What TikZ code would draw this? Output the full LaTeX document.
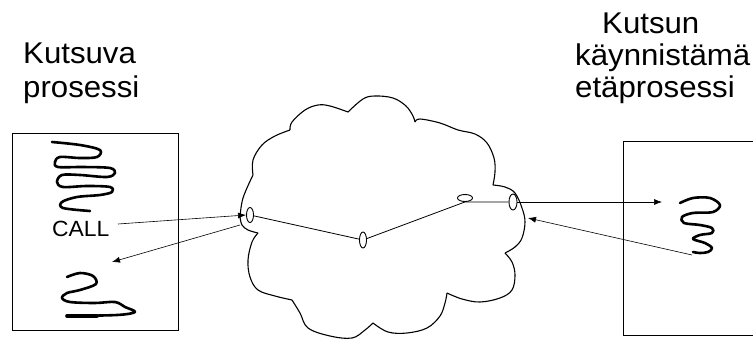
\documentclass[tikz,border=0pt]{standalone}
\usepackage{fontspec}
\setmainfont{Liberation Sans}[FakeStretch=1.04]
\usetikzlibrary{arrows.meta,shapes.geometric}
\tikzset{
  lbl/.style={anchor=base west,inner sep=0pt,font=\fontsize{30}{30}\selectfont},
  ell/.style={ellipse,draw,line width=0.9pt,inner sep=0pt,fill=white},
  conn/.style={line width=0.8pt},
  arr/.style={line width=0.6pt,-{Latex[length=8pt,width=6pt]}},
  scrib/.style={line width=2.6pt,line cap=round,line join=round},
  cloudline/.style={line width=1.1pt,line join=round},
  boxline/.style={line width=0.9pt}
}
\begin{document}
\begin{tikzpicture}[x=1pt,y=-1pt]
\useasboundingbox (0,0) rectangle (753,340);
% boxes
\draw[boxline] (12,133) rectangle (178,330);
\draw[boxline] (760,141) -- (623,141) -- (623,335) -- (760,335);
% titles
\node[lbl] (t1) at (23,63) {Kutsuva};
\node[lbl] (t2) at (23,97) {prosessi};
\node[lbl] (t3) at (602,33) {Kutsun};
\node[lbl] (t4) at (575,65) {käynnistämä};
\node[lbl] (t5) at (575,97) {etäprosessi};
\node[anchor=base west,inner sep=0pt,font=\fontsize{22}{22}\selectfont] (call) at (52,236) {CALL};
% cloud
\draw[cloudline] plot[smooth,tension=0.6] coordinates {(240,217) (243,198) (253,175)};
\draw[cloudline] plot[smooth,tension=0.6] coordinates {(253,175) (253,160) (262,145) (275,136) (290,130)};
\draw[cloudline] plot[smooth,tension=0.6] coordinates {(290,130) (292,122) (305,110) (318,105) (330,106) (348,112)};
\draw[cloudline] plot[smooth,tension=0.6] coordinates {(348,112) (363,99) (375,96) (393,98) (406,106) (413,116) (415,122)};
\draw[cloudline] plot[smooth,tension=0.6] coordinates {(415,122) (420,119) (440,123) (458,130) (475,134) (487,143) (494,158) (495,172) (493,185)};
\draw[cloudline] plot[smooth,tension=0.6] coordinates {(493,185) (505,187) (515,193) (522,208) (525,222) (522,238) (515,247) (505,253)};
\draw[cloudline] plot[smooth,tension=0.6] coordinates {(505,253) (512,262) (515,275) (512,290) (500,298) (480,302) (462,299) (447,293)};
\draw[cloudline] plot[smooth,tension=0.6] coordinates {(447,293) (445,303) (440,316) (427,328) (407,333) (388,332) (373,323)};
\draw[cloudline] plot[smooth,tension=0.6] coordinates {(373,323) (365,330) (352,338) (330,336) (308,328) (300,313) (292,300)};
\draw[cloudline] plot[smooth,tension=0.6] coordinates {(292,300) (275,296) (258,290) (250,277) (248,260) (252,242) (258,233)};
\draw[cloudline] plot[smooth,tension=0.6] coordinates {(258,233) (248,230) (242,225) (240,217)};
% path through the network
\node[ell,minimum width=7pt,minimum height=15pt] (e1) at (250,215) {};
\node[ell,minimum width=7pt,minimum height=16pt] (e2) at (363,240) {};
\node[ell,minimum width=15pt,minimum height=7pt] (e3) at (465,198) {};
\node[ell,minimum width=8pt,minimum height=16pt] (e4) at (513,202) {};
\draw[conn] (e1) -- (e2);
\draw[conn] (e2) -- (e3.south);
\draw[conn] (e3.south) -- (e4.west);
% arrows
\coordinate (ca) at (118,224);
\coordinate (lr) at (240,225);
\coordinate (lt) at (112,262);
\coordinate (rt) at (662,202);
\coordinate (rs) at (692,255);
\coordinate (rr) at (528,218);
\draw[arr] (ca) -- (e1.west);
\draw[arr] (lr) -- (lt);
\draw[arr] (e4.east) -- (rt);
\draw[arr] (rs) -- (rr);
% scribbles
\draw[scrib] plot[smooth,tension=0.55] coordinates {(52,142) (80,145) (100,150) (97,157) (80,158) (60,157) (55,162) (58,167) (83,167) (110,168) (115,173) (107,177) (80,175) (62,175) (57,182) (63,187) (87,186) (110,187) (112,192) (100,195) (77,197) (62,202) (63,208) (90,211)};
\draw[scrib] plot[smooth,tension=0.55] coordinates {(67,277) (80,273) (93,276) (96,284) (80,290) (67,293) (62,298) (70,302) (95,303) (115,302) (125,307) (135,312) (117,315) (67,316)};
\draw[line width=3.6pt,line cap=round] (67,316) -- (97,316);
\draw[scrib] plot[smooth,tension=0.55] coordinates {(680,203) (693,198) (710,198) (720,205) (713,212) (693,213) (682,217) (684,223) (700,225) (712,228) (712,233) (700,235) (693,239) (705,243) (712,248) (708,252) (700,253) (693,252)};
\end{tikzpicture}
\end{document}
